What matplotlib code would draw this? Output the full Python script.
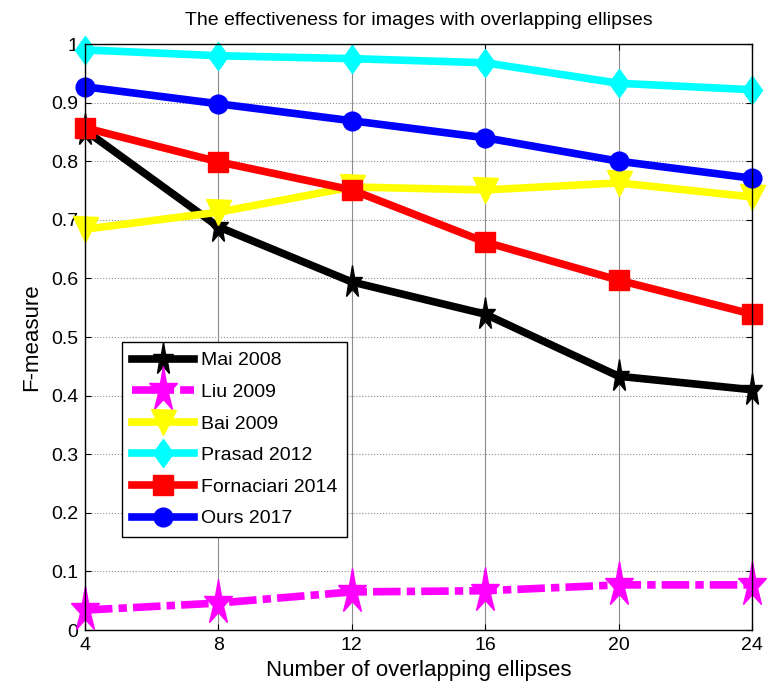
import matplotlib
matplotlib.use("Agg")
import matplotlib.pyplot as plt
from matplotlib.markers import MarkerStyle
from matplotlib.transforms import Affine2D

plt.rcParams["font.family"] = ["Liberation Sans", "DejaVu Sans"]

n_ellipses = [4, 8, 12, 16, 20, 24]
mai_2008 = [0.853, 0.688, 0.594, 0.539, 0.433, 0.410]
liu_2009 = [0.034, 0.046, 0.065, 0.067, 0.077, 0.077]
bai_2009 = [0.684, 0.713, 0.756, 0.751, 0.763, 0.739]
prasad_2012 = [0.990, 0.980, 0.975, 0.968, 0.933, 0.922]
fornaciari_2014 = [0.857, 0.799, 0.751, 0.662, 0.597, 0.539]
ours_2017 = [0.927, 0.898, 0.869, 0.840, 0.800, 0.771]

# MATLAB stars come out taller than they are wide
tall_star = MarkerStyle("*", transform=Affine2D().scale(1.0, 1.65))
thin_diamond = MarkerStyle("D", transform=Affine2D().scale(0.72, 1.0))

fig = plt.figure(figsize=(7.69, 6.93), dpi=100)
ax = fig.add_axes([0.1105, 0.0909, 0.8675, 0.8456])

lw = 5.5
common = dict(lw=lw, clip_on=False)
ax.plot(n_ellipses, mai_2008, color="black", marker=tall_star, ms=15,
        label="Mai 2008", **common)
ax.plot(n_ellipses, liu_2009, color="#ff00ff", ls=(0, (3.6, 0.8, 1.1, 0.8)),
        marker=tall_star, ms=21, label="Liu 2009", **common)
ax.plot(n_ellipses, bai_2009, color="#ffff00", marker="v", ms=18,
        label="Bai 2009", **common)
ax.plot(n_ellipses, prasad_2012, color="#00ffff", marker=thin_diamond, ms=14.5,
        label="Prasad 2012", **common)
ax.plot(n_ellipses, fornaciari_2014, color="#ff0000", marker="s", ms=15,
        label="Fornaciari 2014", **common)
ax.plot(n_ellipses, ours_2017, color="#0000ff", marker="o", ms=13.5,
        label="Ours 2017", **common)

ax.set_xlim(4, 24)
ax.set_ylim(0, 1)
ax.set_xticks(n_ellipses)
ax.set_yticks([i / 10 for i in range(11)])
ax.set_yticklabels(["0", "0.1", "0.2", "0.3", "0.4", "0.5", "0.6", "0.7",
                    "0.8", "0.9", "1"])
ax.xaxis.grid(True, color="#8c8c8c", lw=0.8, ls="-")
ax.yaxis.grid(True, color="#8c8c8c", lw=0.8, ls=":")
ax.set_axisbelow(True)
ax.tick_params(direction="in", top=True, right=True, labelsize=14, length=4,
               pad=5)
for s in ax.spines.values():
    s.set_linewidth(1.0)

ax.set_xlabel("Number of overlapping ellipses", fontsize=16, labelpad=4)
ax.set_ylabel("F-measure", fontsize=16, labelpad=6)
ax.set_title("The effectiveness for images with overlapping ellipses",
             fontsize=14, pad=14)

leg = ax.legend(loc="upper left", bbox_to_anchor=(0.0555, 0.4915),
                borderaxespad=0, fontsize=14, fancybox=False, framealpha=1,
                edgecolor="black", handlelength=3.2, handletextpad=0.35,
                labelspacing=0.72, borderpad=0.5)
leg.get_frame().set_linewidth(1.0)

fig.savefig("out.png", dpi=100)
